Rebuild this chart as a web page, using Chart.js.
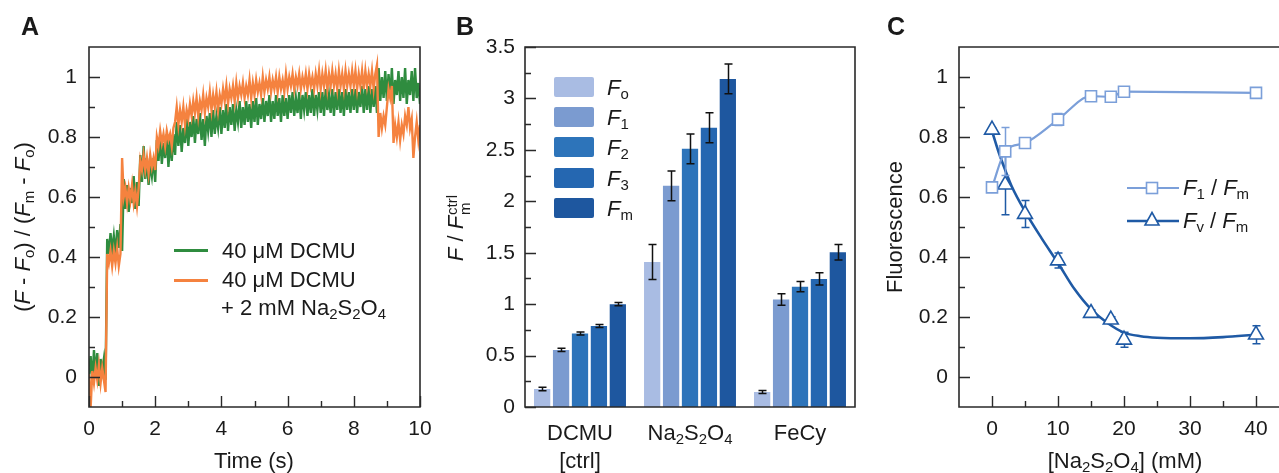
<!DOCTYPE html>
<html>
<head>
<meta charset="utf-8">
<script src="https://cdn.jsdelivr.net/npm/chart.js@4.4.1/dist/chart.umd.min.js"></script>
<style>
  html, body { margin: 0; padding: 0; background: #fff; overflow: hidden; }
  #fig { position: relative; width: 1279px; height: 473px; overflow: hidden;
         font-family: 'Liberation Sans', Arial, sans-serif; color: #1a1a1a; }
  canvas { position: absolute; top: 0; }
  .t { position: absolute; white-space: nowrap; font-size: 22px; line-height: 1; }
  .c { transform: translate(-50%, -50%); }
  .l { transform: translate(0, -50%); }
  .rot { transform: translate(-50%, -50%) rotate(-90deg); }
  .panel { font-weight: bold; font-size: 25px; }
  sub { font-size: 0.68em; vertical-align: -0.3em; line-height: 0; }
  .ss { display: inline-block; font-size: 15px; line-height: 13px; vertical-align: -7px; margin-left: 1px; }
  .ss span { display: block; }
  .key { position: absolute; }
</style>
</head>
<body>
<div id="fig">
  <canvas id="chartA" width="445" height="473" style="left:0"></canvas>
  <canvas id="chartB" width="430" height="473" style="left:430px"></canvas>
  <canvas id="chartC" width="440" height="473" style="left:860px"></canvas>

  <!-- panel A text -->
  <div class="t c panel" style="left:30px;top:26px">A</div>
  <div class="t rot" style="left:23px;top:227px">(<i>F</i> - <i>F</i><sub>o</sub>) / (<i>F</i><sub>m</sub> - <i>F</i><sub>o</sub>)</div>
  <div class="t c" style="left:254px;top:461px">Time (s)</div>
  <div class="key" style="left:174px;top:249px;width:34px;height:3px;background:#2f8c3f"></div>
  <div class="t l" style="left:222px;top:251px">40 μM DCMU</div>
  <div class="key" style="left:174px;top:279px;width:34px;height:3px;background:#f5823f"></div>
  <div class="t l" style="left:222px;top:280px">40 μM DCMU</div>
  <div class="t l" style="left:221px;top:308px">+ 2 mM Na<sub>2</sub>S<sub>2</sub>O<sub>4</sub></div>

  <!-- panel B text -->
  <div class="t c panel" style="left:465px;top:26px">B</div>
  <div class="t rot" style="left:458px;top:228px"><i>F</i> / <i>F</i><span class="ss"><span>ctrl</span><span>m</span></span></div>
  <div id="legendB"></div>

  <!-- panel C text -->
  <div class="t c panel" style="left:896px;top:26px">C</div>
  <div class="t rot" style="left:895px;top:227px">Fluorescence</div>
  <div class="t c" style="left:1125px;top:461px">[Na<sub>2</sub>S<sub>2</sub>O<sub>4</sub>] (mM)</div>
  <svg class="key" style="left:1125px;top:178px" width="56" height="20">
    <line x1="2" y1="10" x2="54" y2="10" stroke="#7b9fd9" stroke-width="2.2"/>
    <rect x="21.5" y="4.5" width="11" height="11" fill="#fff" stroke="#7b9fd9" stroke-width="1.6"/>
  </svg>
  <div class="t l" style="left:1183px;top:188px"><i>F</i><sub>1</sub> / <i>F</i><sub>m</sub></div>
  <svg class="key" style="left:1125px;top:209px" width="56" height="22">
    <line x1="2" y1="12" x2="54" y2="12" stroke="#1f5aa5" stroke-width="2.6"/>
    <polygon points="27,3.5 34,16 20,16" fill="#fff" stroke="#1f5aa5" stroke-width="1.6"/>
  </svg>
  <div class="t l" style="left:1183px;top:221px"><i>F</i><sub>v</sub> / <i>F</i><sub>m</sub></div>
</div>

<script>
// ---------- panel A: induction traces, every 0.05 s ----------
const sampleStep = 0.05;

const greenTrace = [
  0.01, 0.07, -0.02, 0.09, 0.01, 0.08, -0.03, 0.06, 0.02, 0.06, -0.01, 0.46, 0.41, 0.48, 0.42, 0.47, 0.41, 0.49, 0.43, 0.51,
  0.42, 0.66, 0.56, 0.64, 0.55, 0.63, 0.58, 0.67, 0.56, 0.65, 0.57, 0.74, 0.65, 0.77, 0.66, 0.73, 0.64, 0.71, 0.67, 0.73,
  0.65, 0.79, 0.72, 0.80, 0.71, 0.78, 0.73, 0.81, 0.70, 0.79, 0.72, 0.81, 0.74, 0.85, 0.77, 0.84, 0.75, 0.83, 0.78, 0.86,
  0.77, 0.85, 0.80, 0.87, 0.78, 0.86, 0.81, 0.88, 0.79, 0.86, 0.77, 0.87, 0.82, 0.88, 0.80, 0.89, 0.81, 0.87, 0.83, 0.90,
  0.81, 0.89, 0.83, 0.91, 0.82, 0.90, 0.84, 0.91, 0.82, 0.89, 0.85, 0.92, 0.83, 0.90, 0.84, 0.92, 0.85, 0.91, 0.83, 0.92,
  0.85, 0.93, 0.84, 0.91, 0.86, 0.93, 0.85, 0.92, 0.87, 0.94, 0.85, 0.92, 0.86, 0.94, 0.87, 0.93, 0.85, 0.94, 0.87, 0.93,
  0.86, 0.94, 0.88, 0.95, 0.87, 0.93, 0.88, 0.95, 0.86, 0.94, 0.89, 0.95, 0.87, 0.94, 0.88, 0.96, 0.87, 0.94, 0.89, 0.95,
  0.88, 0.95, 0.87, 0.96, 0.89, 0.94, 0.88, 0.96, 0.87, 0.95, 0.89, 0.96, 0.88, 0.95, 0.87, 0.96, 0.89, 0.95, 0.88, 0.96,
  0.89, 0.96, 0.88, 0.95, 0.90, 0.97, 0.88, 0.96, 0.89, 0.97, 0.88, 0.96, 0.90, 0.97, 0.88, 1.03, 0.92, 1.00, 0.93, 1.02,
  0.92, 1.01, 0.93, 1.03, 0.91, 0.99, 0.94, 1.02, 0.92, 1.00, 0.93, 1.03, 0.91, 0.99, 0.94, 1.02, 0.92, 1.03, 0.93, 0.98,
  0.91
];

const orangeTrace = [
  0.01, -0.10, 0.02, -0.02, 0.03, -0.01, 0.04, -0.02, 0.03, -0.01, -0.05, 0.41, 0.38, 0.42, 0.37, 0.42, 0.38, 0.43, 0.37, 0.41,
  0.73, 0.60, 0.63, 0.58, 0.63, 0.59, 0.64, 0.58, 0.62, 0.57, 0.63, 0.72, 0.69, 0.74, 0.69, 0.73, 0.68, 0.74, 0.70, 0.73,
  0.69, 0.80, 0.77, 0.82, 0.78, 0.81, 0.77, 0.82, 0.79, 0.81, 0.77, 0.83, 0.85, 0.90, 0.84, 0.89, 0.85, 0.90, 0.84, 0.89,
  0.86, 0.91, 0.87, 0.92, 0.88, 0.93, 0.87, 0.92, 0.89, 0.94, 0.88, 0.93, 0.90, 0.95, 0.89, 0.94, 0.90, 0.95, 0.89, 0.94,
  0.91, 0.96, 0.92, 0.97, 0.91, 0.96, 0.93, 0.97, 0.92, 0.98, 0.93, 0.97, 0.94, 0.98, 0.93, 0.97, 0.94, 0.99, 0.93, 0.98,
  0.94, 0.99, 0.95, 0.98, 0.94, 1.00, 0.95, 0.99, 0.96, 1.00, 0.95, 0.99, 0.96, 1.00, 0.95, 1.00, 0.96, 0.99, 0.95, 1.01,
  0.96, 1.00, 0.97, 1.01, 0.96, 1.00, 0.97, 1.01, 0.96, 1.00, 0.97, 1.01, 0.96, 1.01, 0.97, 1.00, 0.96, 1.01, 0.97, 1.02,
  0.96, 1.01, 0.97, 1.02, 0.96, 1.01, 0.97, 1.02, 0.97, 1.01, 0.96, 1.02, 0.97, 1.01, 0.96, 1.02, 0.97, 1.01, 0.97, 1.02,
  0.97, 1.02, 0.96, 1.01, 0.97, 1.02, 0.96, 1.02, 0.97, 1.01, 0.97, 1.02, 0.96, 1.01, 1.04, 0.80, 0.88, 0.83, 0.87, 0.84,
  0.90, 0.96, 0.93, 0.97, 0.78, 0.84, 0.80, 0.85, 0.79, 0.84, 0.81, 0.87, 0.84, 0.90, 0.83, 0.86, 0.73, 0.80, 0.85, 0.79,
  0.84
];

const timeTicksMajor = [0, 2, 4, 6, 8, 10];
const timeTicksMinor = [1, 3, 5, 7, 9];
const normTicksMajor = [0, 0.2, 0.4, 0.6, 0.8, 1];
const normTicksMinor = [0.1, 0.3, 0.5, 0.7, 0.9];

// ---------- panel B: fluorescence levels relative to DCMU Fm ----------
const groups = ['DCMU [ctrl]', 'Na2S2O4', 'FeCy'];
const groupLabels = [['DCMU', '[ctrl]'], ['Na<sub>2</sub>S<sub>2</sub>O<sub>4</sub>'], ['FeCy']];
const seriesNames = ['<i>F</i><sub>o</sub>', '<i>F</i><sub>1</sub>', '<i>F</i><sub>2</sub>', '<i>F</i><sub>3</sub>', '<i>F</i><sub>m</sub>'];
const foVals = [0.175, 1.41, 0.146];
const foErr  = [0.018, 0.17, 0.015];
const f1Vals = [0.555, 2.15, 1.045];
const f1Err  = [0.015, 0.145, 0.055];
const f2Vals = [0.715, 2.51, 1.17];
const f2Err  = [0.015, 0.145, 0.05];
const f3Vals = [0.787, 2.715, 1.245];
const f3Err  = [0.015, 0.145, 0.06];
const fmVals = [1.0, 3.19, 1.505];
const fmErr  = [0.015, 0.145, 0.075];
const ratioTicksMajor = [0, 0.5, 1, 1.5, 2, 2.5, 3, 3.5];
const ratioTicksMinor = [0.25, 0.75, 1.25, 1.75, 2.25, 2.75, 3.25];

// ---------- panel C: dithionite titration ----------
const conc    = [0, 2, 5, 10, 15, 18, 20, 40];
const f1Fm    = [0.632, 0.752, 0.78, 0.858, 0.936, 0.934, 0.951, 0.947];
const f1FmErr = [0.01, 0.08, 0.015, 0.02, 0.012, 0.012, 0.012, 0.012];
const fvFm    = [0.824, 0.641, 0.543, 0.388, 0.213, 0.191, 0.124, 0.141];
const fvFmErr = [0.005, 0.1, 0.045, 0.025, 0.01, 0.01, 0.025, 0.03];
const fitConc = [0, 1, 2, 3, 5, 7.5, 10, 12.5, 15, 17.5, 20, 22.5, 25, 30, 35, 40];
const fvFmFit = [0.82, 0.75, 0.69, 0.635, 0.552, 0.463, 0.38, 0.293, 0.226, 0.18, 0.148, 0.136, 0.131, 0.129, 0.133, 0.141];
const concTicksMajor = [0, 10, 20, 30, 40];
const concTicksMinor = [5, 15, 25, 35];

const green = '#2f8c3f';
const orange = '#f5823f';
const barColors = ['#a9bce3', '#7b9bd0', '#2d74ba', '#2567b1', '#1e579f'];
const lightBlue = '#7b9fd9';
const darkBlue = '#1f5aa5';
const axisColor = '#2a2a2a';

Chart.defaults.font.family = "'Liberation Sans', Arial, sans-serif";
Chart.defaults.font.size = 21;
Chart.defaults.color = '#1a1a1a';

// box around plot area + inward ticks
const framePlugin = {
  id: 'frame',
  afterDatasetsDraw(chart, args, opts) {
    const { ctx, chartArea: a, scales } = chart;
    ctx.save();
    ctx.strokeStyle = axisColor;
    ctx.lineWidth = 1.6;
    ctx.beginPath();
    ctx.rect(a.left, a.top, a.right - a.left, a.bottom - a.top);
    ctx.stroke();
    ctx.lineWidth = 1.4;
    ctx.beginPath();
    const xt = (vals, len) => (vals || []).forEach(v => {
      const p = Math.round(scales.x.getPixelForValue(v)) + 0.5;
      ctx.moveTo(p, a.bottom); ctx.lineTo(p, a.bottom - len);
    });
    const yt = (vals, len) => (vals || []).forEach(v => {
      const p = Math.round(scales.y.getPixelForValue(v)) + 0.5;
      ctx.moveTo(a.left, p); ctx.lineTo(a.left + len, p);
    });
    xt(opts.xMajor, 11); xt(opts.xMinor, 6);
    yt(opts.yMajor, 11); yt(opts.yMinor, 6);
    ctx.stroke();
    ctx.restore();
  }
};

// error bars, drawn just before the dataset they belong to
function drawErrors(chart, d) {
  const ds = chart.data.datasets[d];
  if (!ds.errors) return;
  const { ctx } = chart;
  const y = chart.scales.y;
  const meta = chart.getDatasetMeta(d);
  ctx.save();
  ctx.strokeStyle = ds.errorColor || '#111';
  ctx.lineWidth = 1.5;
  ctx.beginPath();
  meta.data.forEach((el, i) => {
    const v = meta.controller.getParsed(i).y;
    const e = ds.errors[i];
    const top = y.getPixelForValue(v + e), bot = y.getPixelForValue(v - e);
    const x = Math.round(el.x) + 0.5, cap = ds.errorCap || 4;
    ctx.moveTo(x, top); ctx.lineTo(x, bot);
    ctx.moveTo(x - cap, top); ctx.lineTo(x + cap, top);
    ctx.moveTo(x - cap, bot); ctx.lineTo(x + cap, bot);
  });
  ctx.stroke();
  ctx.restore();
}
const errorPlugin = {
  id: 'errors',
  afterDatasetsDraw(chart) {
    if (chart.config.type !== 'bar') return;
    chart.data.datasets.forEach((ds, d) => drawErrors(chart, d));
  },
  beforeDatasetDraw(chart, args) {
    if (chart.config.type === 'bar') return;
    drawErrors(chart, args.index);
  }
};

const fmt = v => String(+(+v).toFixed(2));
const fixTicks = list => s => { s.ticks = list.map(v => ({ value: v })); };
const noPadH = w => s => { s.height = w; s.paddingLeft = 0; s.paddingRight = 0; };
const noPadV = w => s => { s.width = w; s.paddingTop = 0; s.paddingBottom = 0; };
const hiddenGrid = { display: false, drawTicks: false };

function baseOptions(extra) {
  return Object.assign({
    responsive: false,
    animation: false,
    events: [],
  }, extra);
}

// ---------- chart A ----------
const toXY = arr => arr.map((v, i) => ({ x: i * sampleStep, y: v }));
new Chart(document.getElementById('chartA'), {
  type: 'line',
  data: {
    datasets: [
      { label: '40 μM DCMU + 2 mM Na2S2O4', data: toXY(orangeTrace), borderColor: orange, borderWidth: 2.4, pointRadius: 0, tension: 0 },
      { label: '40 μM DCMU', data: toXY(greenTrace), borderColor: green, borderWidth: 2.4, pointRadius: 0, tension: 0 }
    ]
  },
  options: baseOptions({
    layout: { padding: { top: 47, right: 25, left: 0, bottom: 0 } },
    plugins: {
      legend: { display: false }, tooltip: { enabled: false },
      frame: { xMajor: timeTicksMajor, xMinor: timeTicksMinor, yMajor: normTicksMajor, yMinor: normTicksMinor }
    },
    scales: {
      x: { type: 'linear', min: 0, max: 10, grid: hiddenGrid, border: { display: false },
           ticks: { padding: 10, callback: fmt, maxRotation: 0 },
           afterBuildTicks: fixTicks(timeTicksMajor), afterFit: noPadH(66) },
      y: { min: -0.1, max: 1.1, grid: hiddenGrid, border: { display: false },
           ticks: { padding: 12, callback: fmt },
           afterBuildTicks: fixTicks(normTicksMajor), afterFit: noPadV(89) }
    }
  }),
  plugins: [framePlugin]
});

// ---------- chart B ----------
const barSeries = [
  [foVals, foErr], [f1Vals, f1Err], [f2Vals, f2Err], [f3Vals, f3Err], [fmVals, fmErr]
];
const chartB = new Chart(document.getElementById('chartB'), {
  type: 'bar',
  data: {
    labels: groups,
    datasets: barSeries.map(([vals, errs], k) => ({
      label: seriesNames[k],
      data: vals,
      errors: errs,
      errorColor: '#111',
      errorCap: 4,
      backgroundColor: barColors[k],
      borderWidth: 0,
      categoryPercentage: 0.86,
      barPercentage: 0.86
    }))
  },
  options: baseOptions({
    layout: { padding: { top: 47, right: 5, left: 0, bottom: 0 } },
    plugins: {
      legend: { display: false }, tooltip: { enabled: false },
      frame: { yMajor: ratioTicksMajor, yMinor: ratioTicksMinor }
    },
    scales: {
      x: { grid: hiddenGrid, border: { display: false }, ticks: { display: false },
           afterFit: noPadH(66) },
      y: { min: 0, max: 3.5, grid: hiddenGrid, border: { display: false },
           ticks: { padding: 10, callback: fmt },
           afterBuildTicks: fixTicks(ratioTicksMajor), afterFit: noPadV(95) }
    }
  }),
  plugins: [errorPlugin, framePlugin]
});

// ---------- chart C ----------
const pts = (xs, ys) => xs.map((x, i) => ({ x, y: ys[i] }));
new Chart(document.getElementById('chartC'), {
  type: 'line',
  data: {
    datasets: [
      { label: 'F1 / Fm', data: pts(conc, f1Fm), errors: f1FmErr, errorColor: lightBlue, errorCap: 4,
        showLine: false, pointStyle: 'rect', pointRadius: 7.8, pointBackgroundColor: '#fff',
        pointBorderColor: lightBlue, pointBorderWidth: 1.6 },
      { label: 'Fv / Fm', data: pts(conc, fvFm), errors: fvFmErr, errorColor: darkBlue, errorCap: 4,
        showLine: false, pointStyle: 'triangle', pointRadius: 8.6, pointBackgroundColor: '#fff',
        pointBorderColor: darkBlue, pointBorderWidth: 1.6 },
      { label: 'F1 / Fm line', data: pts(conc, f1Fm), borderColor: lightBlue, borderWidth: 2.2,
        pointRadius: 0, cubicInterpolationMode: 'monotone' },
      { label: 'Fv / Fm fit', data: pts(fitConc, fvFmFit), borderColor: darkBlue, borderWidth: 2.6,
        pointRadius: 0, cubicInterpolationMode: 'monotone' }
    ]
  },
  options: baseOptions({
    layout: { padding: { top: 47, right: 11, left: 0, bottom: 0 } },
    plugins: {
      legend: { display: false }, tooltip: { enabled: false },
      frame: { xMajor: concTicksMajor, xMinor: concTicksMinor, yMajor: normTicksMajor, yMinor: normTicksMinor }
    },
    scales: {
      x: { type: 'linear', min: -5, max: 45, grid: hiddenGrid, border: { display: false },
           ticks: { padding: 10, callback: fmt, maxRotation: 0 },
           afterBuildTicks: fixTicks(concTicksMajor), afterFit: noPadH(66) },
      y: { min: -0.1, max: 1.1, grid: hiddenGrid, border: { display: false },
           ticks: { padding: 11, callback: fmt },
           afterBuildTicks: fixTicks(normTicksMajor), afterFit: noPadV(99) }
    }
  }),
  plugins: [errorPlugin, framePlugin]
});

// ---------- HTML text tied to chart B ----------
const fig = document.getElementById('fig');
const xB = chartB.scales.x;
groupLabels.forEach((lines, i) => {
  lines.forEach((txt, k) => {
    const el = document.createElement('div');
    el.className = 't c';
    el.innerHTML = txt;
    el.style.left = (430 + xB.getPixelForValue(i)) + 'px';
    el.style.top = (chartB.chartArea.bottom + 26 + k * 28) + 'px';
    fig.appendChild(el);
  });
});

const legendB = document.getElementById('legendB');
seriesNames.forEach((name, k) => {
  const cy = 86.5 + k * 30.4;
  const sw = document.createElement('div');
  sw.className = 'key';
  sw.style.cssText = `left:554px;top:${cy - 10}px;width:40px;height:20px;border-radius:2px;background:${barColors[k]}`;
  legendB.appendChild(sw);
  const tx = document.createElement('div');
  tx.className = 't l';
  tx.style.left = '607px';
  tx.style.top = (cy + 1) + 'px';
  tx.innerHTML = name;
  legendB.appendChild(tx);
});
</script>
</body>
</html>
